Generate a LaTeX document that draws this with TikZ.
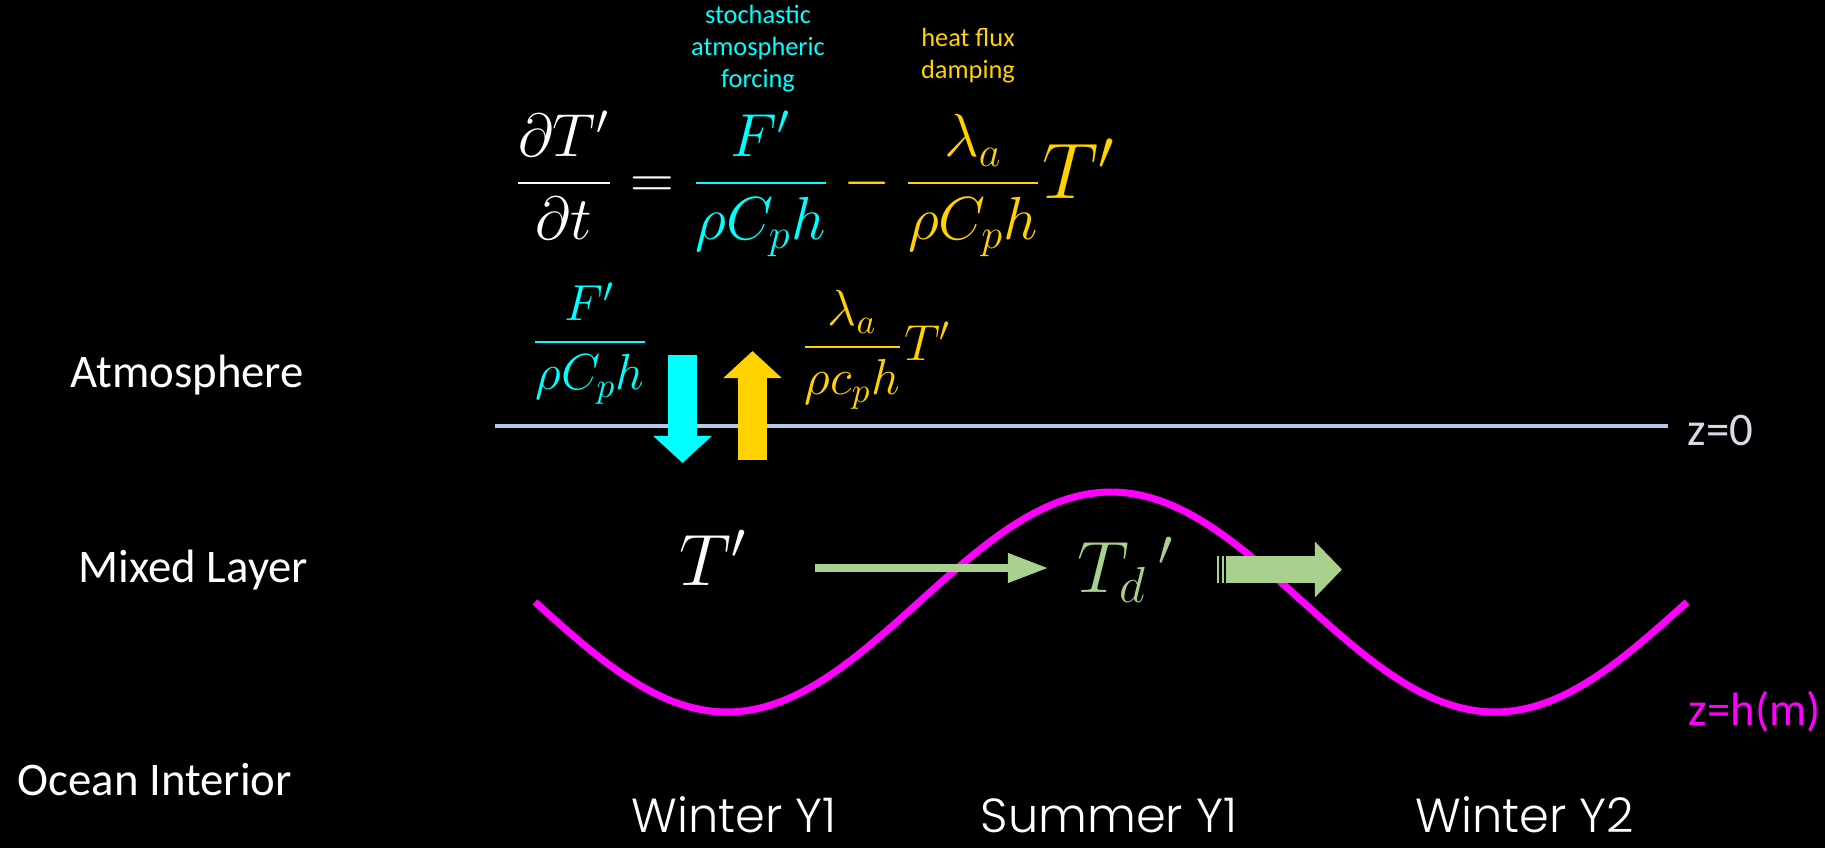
\documentclass[tikz,border=0pt]{standalone}
\usepackage{fontspec}
\setmainfont{Carlito}
\newfontfamily\seasonfont{Poppins Light}
\usepackage{amsmath}
\usepackage{graphicx}
\usetikzlibrary{arrows.meta,calc}

\definecolor{fluxcyan}{RGB}{0,255,255}
\definecolor{fluxgold}{RGB}{255,210,0}
\definecolor{lagreen}{RGB}{169,209,142}
\definecolor{mldmag}{RGB}{255,0,255}
\definecolor{sfcblue}{RGB}{180,199,231}
\definecolor{sfcgrey}{RGB}{214,220,229}

\begin{document}
\begin{tikzpicture}[x=0.01cm,y=-0.01cm,
    layer/.style={text=white,font=\fontsize{13.3}{16}\selectfont,anchor=base west,inner sep=0pt},
    season/.style={text=white,font=\seasonfont\fontsize{13.6}{16}\selectfont,anchor=base,inner sep=0pt},
    note/.style={font=\fontsize{7.5}{9.1}\selectfont,align=center,inner sep=0pt},
    eqn/.style={text=white,font=\fontsize{17.5}{20}\selectfont,anchor=base,inner sep=0pt},
    frac/.style={font=\fontsize{14.5}{17}\selectfont,anchor=base,inner sep=0pt},
    temp/.style={font=\fontsize{19.6}{24}\selectfont,anchor=base,inner sep=0pt},
    flux/.style={line width=8.25pt,-{Triangle[width=16.2pt,length=7.7pt]}},
    lag/.style={lagreen,line width=2pt,-{Triangle[width=8pt,length=11.4pt]}},
    carry/.style={lagreen,line width=7.7pt,-{Triangle[width=15.4pt,length=7.7pt]}},
    sfc/.style={sfcblue,line width=1pt},
    mld/.style={mldmag,line width=2pt}]
  \fill[black] (0,0) rectangle (1825,848);
  \useasboundingbox (0,0) rectangle (1825,848);

  % layers
  \node[layer] (atm) at (70,387) {Atmosphere};
  \node[layer] (mix) at (78,582) {Mixed Layer};
  \node[layer] (ocean) at (17,795) {Ocean Interior};

  % budget equation
  \node[note,text=fluxcyan] (forcnote) at (758,49) {stochastic\\atmospheric\\forcing};
  \node[note,text=fluxgold] (dampnote) at (968,56) {heat flux\\damping};
  \node[eqn] (budget) at (815,198)
    {$\dfrac{\partial T'}{\partial t} = {\color{fluxcyan}\dfrac{F'}{\rho C_p h}}
      \color{fluxgold} - \dfrac{\lambda_a}{\rho C_p h}\scalebox{1.3}{$T'$}$};

  % sea surface
  \coordinate (sfcW) at (495,426);
  \coordinate (sfcE) at (1668,426);
  \draw[sfc] (sfcW) -- (sfcE);
  \node[layer,text=sfcgrey,anchor=west] (zzero) at (1687,430) {z=0};

  % air-sea fluxes
  \node[frac,text=fluxcyan] (forcfrac) at (590,355) {$\dfrac{F'}{\rho C_p h}$};
  \node[frac,text=fluxgold] (dampfrac) at (876,360) {$\dfrac{\lambda_a}{\rho c_p h}T'$};
  \coordinate (downA) at (682.5,355);
  \coordinate (downB) at (682.5,463);
  \coordinate (upA) at (752.5,460);
  \coordinate (upB) at (752.5,351);
  \draw[flux,fluxcyan] (downA) -- (downB);
  \draw[flux,fluxgold] (upA) -- (upB);

  % mixed layer depth
  \draw[mld] (535,602) sin (727,712) cos (919,602) sin (1111,492)
    cos (1303,602) sin (1495,712) cos (1687,602);
  \node[layer,text=mldmag,anchor=west] (zh) at (1688,712) {z=h(m)};

  % reemergence
  \node[temp,text=white] (tml) at (713,585) {$T'$};
  \node[temp,text=lagreen] (tdl) at (1126,592) {$T_d\,{}'$};
  \coordinate (lagS) at (815,568);
  \coordinate (lagE) at (1048,568);
  \draw[lag] (lagS) -- (lagE);
  \fill[lagreen] (1217,556) rectangle (1219,583);
  \fill[lagreen] (1222,556) rectangle (1224,583);
  \coordinate (carryS) at (1226,569.5);
  \coordinate (carryE) at (1342,569.5);
  \draw[carry] (carryS) -- (carryE);

  % seasons
  \node[season] (winter1) at (734,832) {Winter Y1};
  \node[season] (summer1) at (1109,832) {Summer Y1};
  \node[season] (winter2) at (1525,832) {Winter Y2};
\end{tikzpicture}
\end{document}
